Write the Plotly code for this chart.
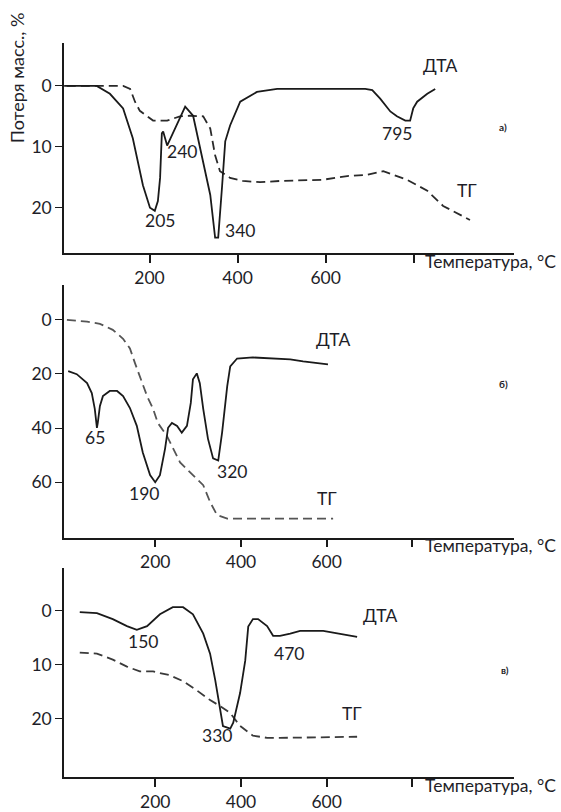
import plotly.graph_objects as go

# ---------- Panel а) ----------
a_dta_t = [6, 80, 110, 140, 162, 185, 201, 212, 219, 224, 228, 231, 240, 258, 281, 299, 315, 338, 349, 356,
           365, 372, 383, 406, 444, 490, 690, 706, 724, 747, 762, 781, 792, 799, 808, 831, 849]
a_dta_v = [0, 0, 1.3, 3.7, 8.6, 16.3, 20.0, 20.5, 18.9, 15.1, 7.8, 7.5, 9.8, 7.0, 3.4, 4.9, 10.2, 17.9, 24.9, 24.9,
           16.3, 9.1, 6.5, 2.6, 1.0, 0.5, 0.5, 0.7, 2.1, 4.2, 5.0, 5.7, 5.7, 3.7, 2.6, 1.3, 0.5]
a_tg_t = [12, 140, 156, 167, 178, 208, 240, 269, 292, 322, 338, 349, 360, 383, 412, 451, 497, 594, 649, 694,
          731, 785, 831, 867, 928]
a_tg_v = [0, 0, 0.5, 2.6, 4.1, 5.7, 5.7, 5.0, 4.9, 5.0, 7.0, 11.4, 14.0, 15.1, 15.6, 15.8, 15.6, 15.4, 14.8, 14.6,
          14.0, 15.4, 17.2, 19.7, 22.0]
a_peaks = ["205", "240", "340", "795"]
a_peak_t = [224, 274, 406, 762]
a_peak_v = [22.1, 10.7, 23.7, 7.8]
a_yticks = [0, 10, 20]

# ---------- Panel б) ----------
b_dta_t = [-3, 17, 41, 52, 59, 64, 66, 71, 78, 94, 111, 125, 141, 157, 171, 188, 200, 211, 223, 230, 239, 251,
           262, 274, 283, 288, 297, 304, 312, 323, 335, 347, 356, 368, 375, 391, 428, 491, 515, 545, 578, 603]
b_dta_v = [19.0, 20.1, 23.4, 27.1, 32.9, 39.9, 38.1, 31.8, 28.2, 26.3, 26.3, 28.2, 32.6, 39.2, 49.0, 57.4, 60.0,
           57.4, 47.6, 39.9, 38.1, 39.2, 41.7, 39.2, 30.7, 22.0, 19.8, 23.4, 32.9, 43.9, 51.2, 52.0, 41.7, 24.5,
           17.2, 14.3, 13.9, 14.3, 14.6, 15.4, 16.1, 16.5]
b_tg_t = [-6, 41, 71, 101, 125, 141, 153, 164, 181, 195, 206, 227, 258, 288, 312, 328, 344, 368, 491, 615]
b_tg_v = [0, 0.7, 1.5, 3.7, 7.0, 10.6, 16.1, 20.9, 28.2, 32.9, 38.1, 42.8, 52.7, 57.4, 61.1, 67.3, 72.1, 73.5,
          73.5, 73.5]
b_peaks = ["65", "190", "320"]
b_peak_t = [59, 174, 379]
b_peak_v = [43.5, 64, 56]
b_yticks = [0, 20, 40, 60]

# ---------- Panel в) ----------
c_dta_t = [24, 64, 101, 134, 157, 181, 211, 241, 265, 288, 312, 328, 340, 351, 358, 375, 382, 398, 410, 417,
           428, 440, 461, 475, 491, 515, 538, 592, 631, 671]
c_dta_v = [0.2, 0.4, 1.5, 2.8, 3.5, 2.8, 0.6, -0.7, -0.7, 0.6, 4.2, 7.9, 12.8, 18.3, 21.3, 21.8, 20.7, 15.2, 9.2,
           2.9, 1.5, 1.5, 2.8, 4.6, 4.6, 4.2, 3.7, 3.7, 4.2, 4.8]
c_tg_t = [24, 64, 101, 134, 164, 195, 234, 265, 297, 328, 351, 375, 398, 428, 461, 491, 671]
c_tg_v = [7.7, 7.9, 9.0, 10.3, 11.2, 11.2, 11.9, 13.0, 14.7, 16.5, 17.6, 18.9, 21.3, 23.1, 23.5, 23.5, 23.3]
c_peaks = ["150", "330", "470"]
c_peak_t = [171, 344, 512]
c_peak_v = [5.7, 23.1, 7.9]
c_yticks = [0, 10, 20]

x_ticks = [200, 400, 600, 800]
x_tick_text = ["200", "400", "600", ""]

W, H = 561, 812
FONT = "Lato, Carlito, Calibri, sans-serif"
TXT = "#1e1e28"
FS = 17.5

fig = go.Figure()

panels = [
    dict(ax="", dta=(a_dta_t, a_dta_v), tg=(a_tg_t, a_tg_v), peaks=(a_peaks, a_peak_t, a_peak_v),
         yticks=a_yticks, yr=[27.5, -7.1], xr=[5.7, 1028], ydom=[43, 256],
         dta_lbl=(860, -3.3), tg_lbl=(921, 17.2), tag=("а)", 1003, 6.7), tg_color="#2a2a2a"),
    dict(ax="2", dta=(b_dta_t, b_dta_v), tg=(b_tg_t, b_tg_v), peaks=(b_peaks, b_peak_t, b_peak_v),
         yticks=b_yticks, yr=[80.5, -12.8], xr=[-12.8, 1037], ydom=[288, 543],
         dta_lbl=(615, 7.3), tg_lbl=(601, 65.9), tag=("б)", 1012, 23.8), tg_color="#555555"),
    dict(ax="3", dta=(c_dta_t, c_dta_v), tg=(c_tg_t, c_tg_v), peaks=(c_peaks, c_peak_t, c_peak_v),
         yticks=c_yticks, yr=[30.8, -7.9], xr=[-12.8, 1037], ydom=[574, 785],
         dta_lbl=(725, 0.9), tg_lbl=(659, 18.9), tag=("в)", 1016, 11.0), tg_color="#3a3a3a"),
]

annotations = []
for p in panels:
    xa, ya = "x" + p["ax"], "y" + p["ax"]
    fig.add_trace(go.Scatter(x=p["tg"][0], y=p["tg"][1], mode="lines", xaxis=xa, yaxis=ya,
                             line=dict(color=p["tg_color"], width=1.8, dash="9px,5px"), showlegend=False))
    fig.add_trace(go.Scatter(x=p["dta"][0], y=p["dta"][1], mode="lines", xaxis=xa, yaxis=ya,
                             line=dict(color="#1a1a1a", width=1.8), showlegend=False))
    for txt, t, v in zip(*p["peaks"]):
        annotations.append(dict(x=t, y=v, xref=xa, yref=ya, text=txt, showarrow=False,
                                xanchor="center", yanchor="middle",
                                font=dict(family=FONT, size=FS, color=TXT)))
    annotations.append(dict(x=p["dta_lbl"][0], y=p["dta_lbl"][1], xref=xa, yref=ya, text="ДТА",
                            xanchor="center", yanchor="middle",
                            showarrow=False, font=dict(family=FONT, size=FS, color=TXT)))
    annotations.append(dict(x=p["tg_lbl"][0], y=p["tg_lbl"][1], xref=xa, yref=ya, text="ТГ",
                            xanchor="center", yanchor="middle",
                            showarrow=False, font=dict(family=FONT, size=FS, color=TXT)))
    annotations.append(dict(x=p["tag"][1], y=p["tag"][2], xref=xa, yref=ya, text="<b>" + p["tag"][0] + "</b>",
                            xanchor="center", yanchor="middle",
                            showarrow=False, font=dict(family=FONT, size=10, color=TXT)))
    # x-axis title
    annotations.append(dict(x=423 / W, y=1 - (p["ydom"][1] + 8) / H, xref="paper", yref="paper",
                            xanchor="left", yanchor="middle", text="Температура, °C", showarrow=False,
                            font=dict(family=FONT, size=FS, color=TXT)))

annotations.append(dict(x=17 / W, y=1 - 79 / H, xref="paper", yref="paper", text="Потеря масс., %",
                        xanchor="center", yanchor="middle",
                        textangle=-90, showarrow=False, font=dict(family=FONT, size=18, color=TXT)))

layout = dict(width=W, height=H, margin=dict(l=0, r=0, t=0, b=0), paper_bgcolor="white",
              plot_bgcolor="white", annotations=annotations, showlegend=False)
xdom = [64 / W, 514 / W]
for i, p in enumerate(panels):
    sfx = "" if i == 0 else str(i + 1)
    anchor_y = "y" + p["ax"]
    anchor_x = "x" + p["ax"]
    layout["xaxis" + sfx] = dict(domain=xdom, range=p["xr"], anchor=anchor_y, showgrid=False, zeroline=False,
                                 showline=True, linecolor="#1a1a1a", linewidth=1.6, ticks="outside",
                                 ticklen=8, tickwidth=1.5, tickcolor="#1a1a1a", tickvals=x_ticks,
                                 ticktext=x_tick_text, tickfont=dict(family=FONT, size=FS, color=TXT))
    layout["yaxis" + sfx] = dict(domain=[1 - p["ydom"][1] / H, 1 - p["ydom"][0] / H], range=p["yr"],
                                 anchor=anchor_x, showgrid=False, zeroline=False, showline=True,
                                 linecolor="#1a1a1a", linewidth=1.6, ticks="outside", ticklen=7,
                                 tickwidth=1.3, tickcolor="#1a1a1a", tickvals=p["yticks"],
                                 tickfont=dict(family=FONT, size=FS, color=TXT))
fig.update_layout(**layout)
fig.write_html("out.html")
